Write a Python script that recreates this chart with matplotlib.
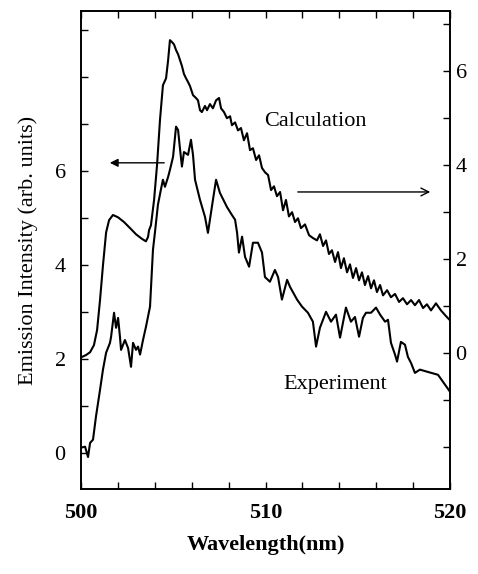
import matplotlib
matplotlib.use("Agg")
import matplotlib.pyplot as plt
from matplotlib.ticker import MultipleLocator, FixedLocator

plt.rcParams['font.family'] = ['Liberation Serif', 'DejaVu Serif']

# ---- data ----
calc_wl = [500.00, 500.27, 500.49, 500.70, 500.87, 501.03, 501.19, 501.36, 501.52, 501.73,
           502.01, 502.33, 502.66, 502.98, 503.31, 503.52, 503.63, 503.69, 503.79, 503.96,
           504.12, 504.28, 504.44, 504.61, 504.72, 504.82, 504.93, 505.04, 505.15, 505.26,
           505.37, 505.47, 505.58, 505.69, 505.80, 505.91, 506.07, 506.23, 506.34, 506.45,
           506.55, 506.72, 506.83, 506.99, 507.15, 507.32, 507.48, 507.59, 507.75, 507.91,
           508.08, 508.18, 508.35, 508.51, 508.67, 508.83, 509.00, 509.16, 509.32, 509.49,
           509.65, 509.81, 509.97, 510.14, 510.30, 510.46, 510.62, 510.79, 510.95, 511.11,
           511.27, 511.44, 511.60, 511.76, 511.92, 512.14, 512.36, 512.57, 512.79, 512.95,
           513.12, 513.28, 513.44, 513.60, 513.77, 513.93, 514.09, 514.25, 514.42, 514.58,
           514.74, 514.91, 515.07, 515.23, 515.39, 515.56, 515.72, 515.88, 516.04, 516.21,
           516.37, 516.59, 516.80, 517.02, 517.24, 517.45, 517.67, 517.89, 518.10, 518.32,
           518.54, 518.75, 518.97, 519.24, 519.51, 519.78, 520.00]
calc_val = [-0.09, -0.04, 0.02, 0.17, 0.49, 1.13, 1.87, 2.57, 2.83, 2.94,
            2.89, 2.79, 2.66, 2.53, 2.43, 2.38, 2.47, 2.62, 2.72, 3.26,
            4.00, 4.96, 5.70, 5.85, 6.23, 6.66, 6.62, 6.57, 6.45, 6.36,
            6.23, 6.11, 5.94, 5.85, 5.77, 5.68, 5.49, 5.43, 5.38, 5.17,
            5.13, 5.26, 5.17, 5.30, 5.21, 5.38, 5.43, 5.21, 5.13, 5.00,
            5.04, 4.85, 4.91, 4.74, 4.79, 4.53, 4.68, 4.32, 4.36, 4.11,
            4.21, 3.94, 3.85, 3.79, 3.47, 3.55, 3.34, 3.43, 3.04, 3.26,
            2.91, 3.00, 2.79, 2.87, 2.66, 2.74, 2.51, 2.45, 2.40, 2.53,
            2.28, 2.40, 2.11, 2.19, 1.94, 2.15, 1.81, 2.02, 1.72, 1.89,
            1.60, 1.81, 1.55, 1.72, 1.45, 1.64, 1.38, 1.55, 1.30, 1.45,
            1.23, 1.34, 1.19, 1.26, 1.09, 1.17, 1.04, 1.13, 1.02, 1.13,
            0.96, 1.04, 0.91, 1.06, 0.91, 0.79, 0.70]

exp_wl = [500.00, 500.22, 500.38, 500.49, 500.65, 500.81, 501.03, 501.19, 501.36, 501.57,
          501.63, 501.79, 501.90, 502.01, 502.11, 502.17, 502.38, 502.55, 502.71, 502.82,
          502.98, 503.09, 503.20, 503.36, 503.52, 503.74, 503.90, 504.01, 504.17, 504.33,
          504.44, 504.55, 504.72, 504.82, 504.99, 505.15, 505.26, 505.37, 505.47, 505.58,
          505.80, 505.96, 506.07, 506.18, 506.45, 506.72, 506.88, 507.15, 507.32, 507.53,
          507.91, 508.18, 508.35, 508.46, 508.56, 508.73, 508.89, 509.11, 509.32, 509.59,
          509.81, 509.97, 510.24, 510.51, 510.68, 510.89, 511.17, 511.33, 511.71, 511.98,
          512.30, 512.57, 512.74, 512.95, 513.28, 513.55, 513.82, 514.04, 514.36, 514.63,
          514.85, 515.07, 515.28, 515.45, 515.72, 515.99, 516.21, 516.48, 516.64, 516.80,
          517.02, 517.13, 517.34, 517.56, 517.72, 517.89, 518.10, 518.37, 518.81, 519.35,
          519.73, 520.00]
exp_val = [0.11, 0.13, -0.09, 0.21, 0.28, 0.77, 1.34, 1.77, 2.13, 2.34,
           2.47, 2.98, 2.66, 2.87, 2.47, 2.19, 2.40, 2.23, 1.83, 2.34,
           2.19, 2.26, 2.09, 2.40, 2.68, 3.11, 4.32, 4.70, 5.28, 5.60,
           5.81, 5.66, 5.87, 6.02, 6.30, 6.94, 6.87, 6.45, 6.09, 6.40,
           6.34, 6.66, 6.34, 5.81, 5.38, 5.02, 4.68, 5.38, 5.81, 5.53,
           5.23, 5.06, 4.96, 4.68, 4.26, 4.60, 4.17, 3.96, 4.47, 4.47,
           4.26, 3.74, 3.64, 3.89, 3.74, 3.26, 3.68, 3.53, 3.26, 3.11,
           2.98, 2.79, 2.26, 2.66, 3.00, 2.79, 2.94, 2.45, 3.09, 2.79,
           2.89, 2.47, 2.87, 2.98, 2.98, 3.09, 2.94, 2.79, 2.83, 2.34,
           2.09, 1.94, 2.36, 2.30, 2.04, 1.91, 1.70, 1.77, 1.72, 1.66,
           1.45, 1.30]

x_ticklabels = ['500', '510', '520']
left_ticklabels = ['0', '2', '4', '6']
right_ticklabels = ['0', '2', '4', '6']

# ---- figure ----
fig = plt.figure(figsize=(4.78, 5.74), dpi=100)
ax = fig.add_axes([0.1695, 0.1481, 0.7719, 0.8327])
ax2 = ax.twinx()

ax.plot(exp_wl, exp_val, color='black', lw=1.5)
ax2.plot(calc_wl, calc_val, color='black', lw=1.5)

ax.set_xlim(500, 520)
ax.set_ylim(-0.77, 9.40)
ax2.set_ylim(-2.89, 7.28)

ax.xaxis.set_major_locator(FixedLocator([500, 510, 520]))
ax.set_xticklabels(x_ticklabels, fontweight='bold', fontsize=16)
ax.xaxis.set_minor_locator(MultipleLocator(2))
ax.yaxis.set_major_locator(FixedLocator([0, 2, 4, 6]))
ax.set_yticklabels(left_ticklabels, fontsize=16)
ax.yaxis.set_minor_locator(FixedLocator([1, 3, 5, 7, 8, 9]))
ax2.yaxis.set_major_locator(FixedLocator([0, 2, 4, 6]))
ax2.set_yticklabels(right_ticklabels, fontsize=16)
ax2.yaxis.set_minor_locator(FixedLocator([-2, -1, 1, 3, 5, 7]))

ax.tick_params(axis='x', which='both', direction='in', top=True, length=5, width=1)
ax.tick_params(axis='x', which='major', pad=10)
ax.tick_params(axis='y', which='both', direction='in', length=5, width=1, pad=11)
ax2.tick_params(axis='y', which='both', direction='in', length=5, width=1, pad=4)

for a in (ax, ax2):
    for s in a.spines.values():
        s.set_linewidth(1.2)

ax.set_xlabel('Wavelength(nm)', fontsize=16, fontweight='bold', labelpad=9)
ax.set_ylabel('Emission Intensity (arb. units)', fontsize=16, labelpad=12)

ax.text(512.68, 7.04, 'Calculation', fontsize=16, ha='center', va='center')
ax.text(513.77, 1.45, 'Experiment', fontsize=16, ha='center', va='center')

ax.annotate('', xy=(501.41, 6.17), xytext=(504.66, 6.17),
            arrowprops=dict(arrowstyle='-|>', lw=1.0, color='black', mutation_scale=12))
ax.annotate('', xy=(519.08, 5.55), xytext=(511.6, 5.55),
            arrowprops=dict(arrowstyle='->', lw=1.0, color='black', mutation_scale=14))

fig.savefig('out.png', dpi=100)
